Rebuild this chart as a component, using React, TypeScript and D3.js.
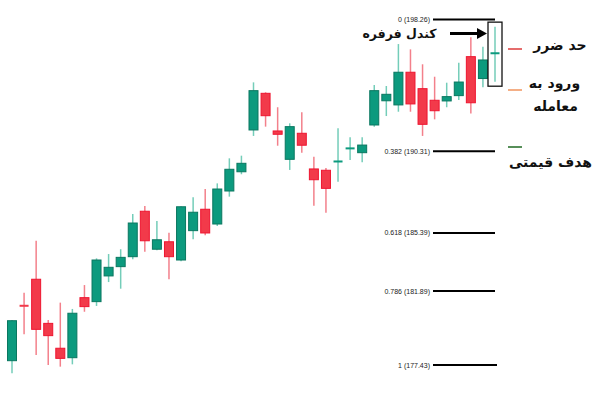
import React from "react";
import * as d3 from "d3";

const opens = [177.69, 181.02, 182.6, 179.94, 178.44, 177.87, 181.49, 181.25, 182.8, 183.36, 183.96, 186.7, 184.41, 184.86, 183.76, 185.53, 186.82, 185.93, 187.92, 189.08, 191.6, 193.81, 191.54, 189.83, 191.4, 189.25, 189.17, 189.65, 190.47, 190.23, 191.9, 193.36, 193.11, 195.08, 194.09, 193.39, 193.35, 193.67, 196.02, 194.7, 196.18];
const closes = [180.1, 180.98, 179.58, 179.2, 177.83, 180.55, 180.95, 183.76, 183.32, 183.92, 185.99, 184.92, 184.98, 183.96, 186.97, 186.64, 185.39, 188.04, 189.23, 189.59, 193.97, 192.46, 191.34, 191.8, 190.68, 188.6, 188.08, 189.75, 190.51, 190.69, 193.97, 193.75, 195.08, 193.17, 191.94, 192.76, 193.61, 194.49, 193.24, 195.82, 196.27];
const highs = [180.15, 181.79, 184.92, 180.14, 181.19, 180.81, 182.25, 183.86, 184.12, 184.41, 186.53, 187.02, 186.11, 185.41, 187.0, 187.54, 188.04, 188.38, 189.89, 190.05, 194.47, 193.87, 192.97, 192.0, 192.67, 189.99, 189.31, 191.7, 191.16, 191.16, 194.31, 194.25, 196.78, 196.46, 195.56, 194.81, 194.45, 195.66, 197.19, 196.62, 197.83];
const lows = [176.93, 179.28, 178.03, 177.43, 177.33, 177.47, 180.64, 180.99, 182.43, 182.03, 183.8, 184.26, 184.35, 182.6, 183.68, 185.01, 185.25, 185.81, 187.58, 188.93, 191.24, 191.8, 190.65, 189.19, 190.23, 187.03, 186.61, 188.48, 189.79, 189.65, 191.8, 192.44, 192.7, 192.7, 191.24, 192.24, 192.97, 193.41, 192.6, 194.17, 194.51];

const fibRatios = ["0", "0.382", "0.618", "0.786", "1"];
const fibPrices = [198.26, 190.31, 185.39, 181.89, 177.43];

const legendLabels = [["حد ضرر"], ["ورود به", "معامله"], ["هدف قیمتی"]];
const legendColors = ["#dd3b3b", "#f0955e", "#1f6a22"];
const calloutLabel = "کندل فرفره";

const GREEN = "#0c9a7e";
const GREEN_EDGE = "#0a7760";
const GREEN_WICK = "#74cdb9";
const RED = "#f23a4a";
const RED_EDGE = "#ee1530";
const RED_WICK = "#f3808b";

export default function App() {
  const idx = opens.map((_, i) => i);
  const x = d3.scalePoint<number>().domain(idx).range([12, 495]);
  const y = d3.scaleLinear().domain([177.43, 198.26]).range([365, 19.5]);
  const bw = 9;
  const last = opens.length - 1;
  const fontFa = "'DejaVu Sans', 'Noto Sans', sans-serif";

  return (
    <svg width={600} height={398} style={{ position: "absolute", left: 0, top: 0, background: "#fff" }}>
      {idx.map((i) => {
        const up = closes[i] >= opens[i];
        const cx = x(i)!;
        const top = y(Math.max(opens[i], closes[i]));
        const bot = y(Math.min(opens[i], closes[i]));
        const h = Math.max(2, bot - top);
        return (
          <g key={i}>
            <line x1={cx} x2={cx} y1={y(highs[i])} y2={y(lows[i])} stroke={up ? GREEN_WICK : RED_WICK} strokeWidth={1.5} />
            <rect
              x={cx - bw / 2}
              y={h === 2 ? (top + bot) / 2 - 1 : top}
              width={bw}
              height={h}
              fill={up ? GREEN : RED}
              stroke={h > 3 ? (up ? GREEN_EDGE : RED_EDGE) : "none"}
              strokeWidth={1}
            />
          </g>
        );
      })}
      <rect
        x={x(last)! - 7}
        y={y(highs[last]) - 4.5}
        width={14}
        height={y(lows[last]) - y(highs[last]) + 9}
        fill="none"
        stroke="#111"
        strokeWidth={1.3}
      />
      <line x1={450} x2={479} y1={33.5} y2={33.5} stroke="#000" strokeWidth={3} />
      <polygon points="487,33.5 477,28 477,39" fill="#000" />
      <text x={399.5} y={38} textAnchor="middle" fontFamily={fontFa} fontWeight="bold" fontSize={12.5} fill="#111">
        {calloutLabel}
      </text>
      {fibPrices.map((p, i) => (
        <g key={i}>
          <line x1={433} x2={i === fibPrices.length - 1 ? 497 : 495} y1={y(p)} y2={y(p)} stroke="#000" strokeWidth={2} />
          <text
            x={430}
            y={y(p) + 2.5}
            textAnchor="end"
            fontFamily="'Liberation Sans Narrow', 'Liberation Sans', Arial, sans-serif"
            fontSize={7}
            fill="#222"
          >
            {`${fibRatios[i]} (${p.toFixed(2)})`}
          </text>
        </g>
      ))}
      {[49, 90, 147].map((ly, i) => (
        <line key={i} x1={508} x2={522} y1={ly} y2={ly} stroke={legendColors[i]} strokeWidth={1.5} />
      ))}
      <text x={560} y={50} textAnchor="middle" fontFamily={fontFa} fontWeight="bold" fontSize={14} fill="#111">{legendLabels[0][0]}</text>
      <text x={554.5} y={88} textAnchor="middle" fontFamily={fontFa} fontWeight="bold" fontSize={14} fill="#111">{legendLabels[1][0]}</text>
      <text x={555.5} y={111} textAnchor="middle" fontFamily={fontFa} fontWeight="bold" fontSize={14} fill="#111">{legendLabels[1][1]}</text>
      <text x={550.5} y={167} textAnchor="middle" fontFamily={fontFa} fontWeight="bold" fontSize={14} fill="#111">{legendLabels[2][0]}</text>
    </svg>
  );
}
